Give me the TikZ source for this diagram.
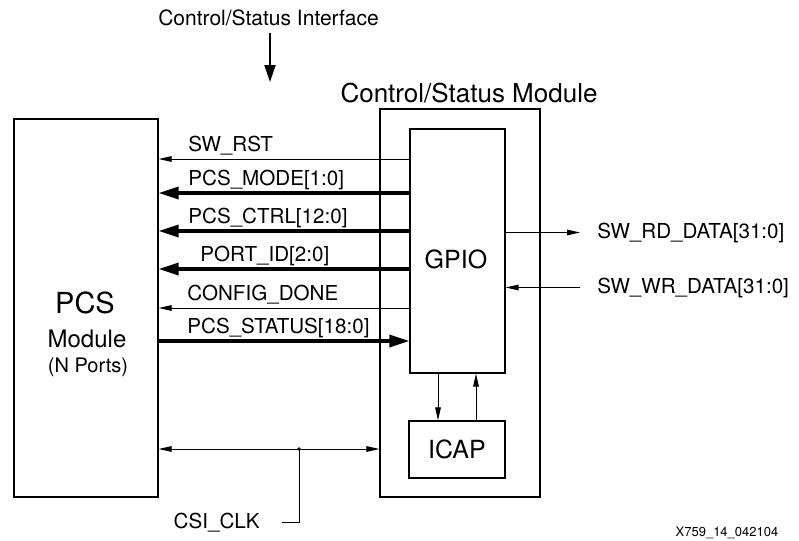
\documentclass[tikz,border=0pt]{standalone}
\usepackage{fontspec}
\setmainfont{TeX Gyre Heros}
\usetikzlibrary{arrows.meta}

\begin{document}
\begin{tikzpicture}[
    x=0.5pt, y=-0.5pt,
    block/.style={draw, line width=0.6pt, inner sep=0pt},
    txt/.style={inner sep=0pt, anchor=base},
    sig/.style={line width=0.5pt, -{Triangle[length=6.5pt,width=2.8pt]}},
    sigboth/.style={line width=0.5pt, {Triangle[length=6.5pt,width=2.8pt]}-{Triangle[length=6.5pt,width=2.8pt]}},
    bus/.style={line width=1.7pt, -{Triangle[length=10pt,width=6pt]}},
    siglabel/.style={anchor=base west, inner sep=0pt, font=\fontsize{10.3}{12}\selectfont}
]

\useasboundingbox (0,0) rectangle (799,541);

% PCS side
\node[block, minimum width=72pt, minimum height=189pt] (pcs) at (86,308) {};
\node[txt, font=\fontsize{14.5}{16}\selectfont] (pcsname) at (85,313) {PCS};
\node[txt, font=\fontsize{12}{14}\selectfont] (pcsmod) at (87,347) {Module};
\node[txt, font=\fontsize{10}{12}\selectfont] (pcsports) at (88,372) {(N Ports)};

% control/status module
\node[block, minimum width=80pt, minimum height=194pt] (csm) at (460,303) {};
\node[txt, font=\fontsize{13}{15}\selectfont] (csmtitle) at (469,102) {Control/Status Module};
\node[block, minimum width=47.5pt, minimum height=122pt] (gpio) at (457.5,251) {};
\node[txt, font=\fontsize{12.5}{14}\selectfont] (gpiotext) at (456,268) {GPIO};
\node[block, minimum width=48pt, minimum height=28.5pt, font=\fontsize{12.5}{14}\selectfont] (icap) at (457,449.5) {ICAP};

% interface arrow
\node[txt, font=\fontsize{10.5}{12}\selectfont] (iface) at (268.5,25) {Control/Status Interface};
\coordinate (ifstart) at (270,33);
\coordinate (ifend) at (270,82);
\draw[line width=1pt, -{Triangle[length=8.5pt,width=5.5pt]}] (ifstart) -- (ifend);

% GPIO -> PCS
\foreach \y/\lbl/\lx [count=\i] in {159/SW\_RST/188, 308/CONFIG\_DONE/187} {
    \draw[sig] (gpio.west |- 0,\y) -- (pcs.east |- 0,\y);
    \node[siglabel] (thin\i) at (\lx,\y-8) {\lbl};
}
\foreach \y/\lbl/\lx [count=\i] in {193/PCS\_MODE[1:0]/188, 231/PCS\_CTRL[12:0]/188, 269/PORT\_ID[2:0]/200} {
    \draw[bus] (gpio.west |- 0,\y) -- (pcs.east |- 0,\y);
    \node[siglabel] (thick\i) at (\lx,\y-8) {\lbl};
}

% PCS -> GPIO
\draw[bus] (pcs.east |- 0,341) -- (gpio.west |- 0,341);
\node[siglabel] (status) at (187,333) {PCS\_STATUS[18:0]};

% software data
\node[siglabel] (rd) at (597,238) {SW\_RD\_DATA[31:0]};
\node[siglabel] (wr) at (597,293) {SW\_WR\_DATA[31:0]};
\draw[sig] (gpio.east |- rd.west) -- ([xshift=-8.5pt]rd.west);
\draw[sig] ([xshift=-8.5pt]wr.west) -- (gpio.east |- wr.west);

% GPIO <-> ICAP
\draw[sig] (gpio.south -| 438,0) -- (icap.north -| 438,0);
\draw[sig] (icap.north -| 476,0) -- (gpio.south -| 476,0);

% clock
\draw[sigboth] (pcs.east |- 0,449) -- (csm.west |- 0,449);
\coordinate (clkdot) at (299,449);
\fill (clkdot) circle (0.9pt);
\node[siglabel, anchor=base east] (clk) at (260,528) {CSI\_CLK};
\draw[line width=0.5pt] (clkdot) |- ([xshift=11pt]clk.mid east);

\node[txt, font=\fontsize{6.5}{8}\selectfont] (figid) at (727,536) {X759\_14\_042104};

\end{tikzpicture}
\end{document}
